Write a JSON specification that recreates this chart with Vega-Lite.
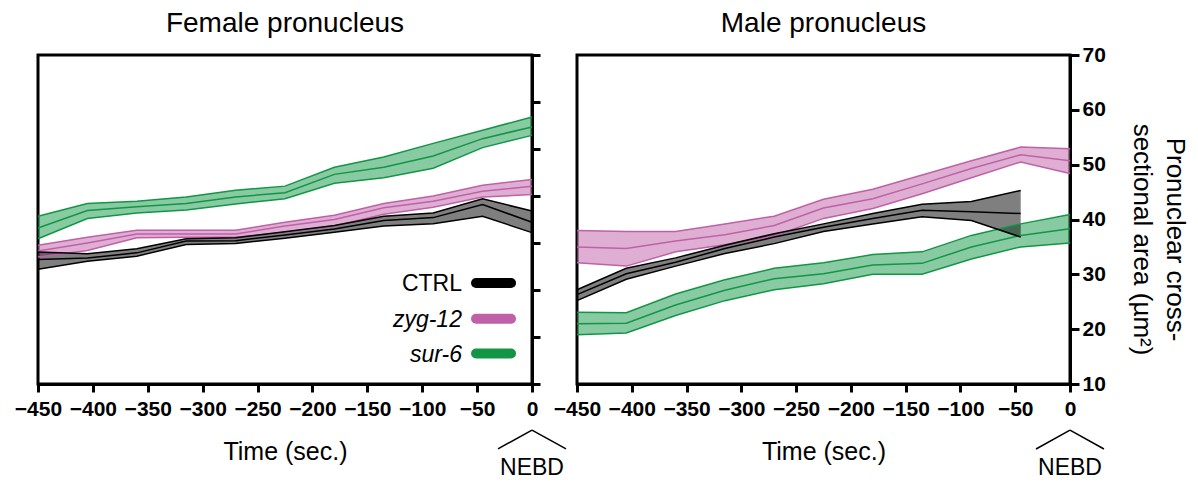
{
  "$schema": "https://vega.github.io/schema/vega-lite/v6.json",
  "background": "white",
  "padding": {"left": 12, "top": 8, "right": 5, "bottom": 5},
  "bounds": "flush",
  "spacing": 45,
  "config": {
    "font": "Liberation Sans",
    "view": {"stroke": "black", "strokeWidth": 3},
    "axis": {"grid": false, "domainColor": "black", "domainWidth": 3, "tickColor": "black", "tickWidth": 3, "tickSize": 8, "labelFont": "Liberation Sans", "labelFontSize": 21, "labelFontWeight": "bold", "labelColor": "black", "titleColor": "black", "titleFont": "Liberation Sans"},
    "axisX": {"labelFlush": false, "labelOverlap": false, "labelPadding": 6, "titleFontSize": 25, "titleFontWeight": "normal", "titleBaseline": "alphabetic", "titleY": 75},
    "text": {"font": "Liberation Sans", "color": "black"}
  },
  "datasets": {"d": [
    {"p":"Female","g":"sur-6","t":-450,"lo":30.9,"m":33.2,"hi":35.7},
    {"p":"Female","g":"sur-6","t":-405,"lo":35.2,"m":36.9,"hi":38.4},
    {"p":"Female","g":"sur-6","t":-360,"lo":36.4,"m":37.7,"hi":38.9},
    {"p":"Female","g":"sur-6","t":-315,"lo":37.0,"m":38.4,"hi":39.8},
    {"p":"Female","g":"sur-6","t":-270,"lo":38.3,"m":39.8,"hi":41.2},
    {"p":"Female","g":"sur-6","t":-225,"lo":39.4,"m":40.7,"hi":42.1},
    {"p":"Female","g":"sur-6","t":-180,"lo":42.7,"m":44.6,"hi":46.1},
    {"p":"Female","g":"sur-6","t":-135,"lo":43.9,"m":46.1,"hi":48.3},
    {"p":"Female","g":"sur-6","t":-90,"lo":45.9,"m":48.5,"hi":51.2},
    {"p":"Female","g":"sur-6","t":-45,"lo":50.3,"m":52.2,"hi":54.0},
    {"p":"Female","g":"sur-6","t":0,"lo":52.9,"m":54.7,"hi":56.8},
    {"p":"Female","g":"zyg-12","t":-450,"lo":27.0,"m":28.3,"hi":29.5},
    {"p":"Female","g":"zyg-12","t":-405,"lo":28.4,"m":30.0,"hi":31.2},
    {"p":"Female","g":"zyg-12","t":-360,"lo":31.1,"m":31.9,"hi":32.7},
    {"p":"Female","g":"zyg-12","t":-315,"lo":31.2,"m":31.9,"hi":32.7},
    {"p":"Female","g":"zyg-12","t":-270,"lo":31.2,"m":31.9,"hi":32.7},
    {"p":"Female","g":"zyg-12","t":-225,"lo":32.3,"m":33.6,"hi":34.4},
    {"p":"Female","g":"zyg-12","t":-180,"lo":33.6,"m":35.0,"hi":35.9},
    {"p":"Female","g":"zyg-12","t":-135,"lo":36.1,"m":37.5,"hi":38.4},
    {"p":"Female","g":"zyg-12","t":-90,"lo":37.6,"m":38.9,"hi":40.0},
    {"p":"Female","g":"zyg-12","t":-45,"lo":39.8,"m":41.0,"hi":42.3},
    {"p":"Female","g":"zyg-12","t":0,"lo":40.3,"m":42.1,"hi":43.5},
    {"p":"Female","g":"CTRL","t":-450,"lo":24.4,"m":26.5,"hi":28.1},
    {"p":"Female","g":"CTRL","t":-405,"lo":26.1,"m":26.8,"hi":27.7},
    {"p":"Female","g":"CTRL","t":-360,"lo":27.2,"m":27.9,"hi":28.8},
    {"p":"Female","g":"CTRL","t":-315,"lo":29.7,"m":30.4,"hi":30.9},
    {"p":"Female","g":"CTRL","t":-270,"lo":29.9,"m":30.5,"hi":31.1},
    {"p":"Female","g":"CTRL","t":-225,"lo":31.0,"m":31.7,"hi":32.4},
    {"p":"Female","g":"CTRL","t":-180,"lo":32.3,"m":33.0,"hi":33.7},
    {"p":"Female","g":"CTRL","t":-135,"lo":33.6,"m":34.8,"hi":35.7},
    {"p":"Female","g":"CTRL","t":-90,"lo":34.1,"m":35.4,"hi":36.4},
    {"p":"Female","g":"CTRL","t":-45,"lo":35.7,"m":38.2,"hi":39.4},
    {"p":"Female","g":"CTRL","t":0,"lo":32.2,"m":34.4,"hi":36.8},
    {"p":"Male","g":"sur-6","t":-450,"lo":19.0,"m":21.0,"hi":23.1},
    {"p":"Male","g":"sur-6","t":-405,"lo":19.3,"m":21.1,"hi":23.0},
    {"p":"Male","g":"sur-6","t":-360,"lo":22.5,"m":24.4,"hi":26.4},
    {"p":"Male","g":"sur-6","t":-315,"lo":25.2,"m":27.1,"hi":29.0},
    {"p":"Male","g":"sur-6","t":-270,"lo":27.2,"m":29.2,"hi":31.1},
    {"p":"Male","g":"sur-6","t":-225,"lo":28.3,"m":30.1,"hi":32.1},
    {"p":"Male","g":"sur-6","t":-180,"lo":30.0,"m":31.7,"hi":33.6},
    {"p":"Male","g":"sur-6","t":-135,"lo":30.0,"m":32.0,"hi":34.1},
    {"p":"Male","g":"sur-6","t":-90,"lo":32.8,"m":35.0,"hi":37.1},
    {"p":"Male","g":"sur-6","t":-45,"lo":35.0,"m":37.1,"hi":39.2},
    {"p":"Male","g":"sur-6","t":0,"lo":35.7,"m":38.3,"hi":40.9},
    {"p":"Male","g":"zyg-12","t":-450,"lo":32.1,"m":35.0,"hi":38.0},
    {"p":"Male","g":"zyg-12","t":-405,"lo":31.5,"m":34.7,"hi":37.8},
    {"p":"Male","g":"zyg-12","t":-360,"lo":34.1,"m":36.1,"hi":37.8},
    {"p":"Male","g":"zyg-12","t":-315,"lo":35.4,"m":37.2,"hi":39.2},
    {"p":"Male","g":"zyg-12","t":-270,"lo":37.0,"m":38.9,"hi":40.6},
    {"p":"Male","g":"zyg-12","t":-225,"lo":40.2,"m":42.1,"hi":43.7},
    {"p":"Male","g":"zyg-12","t":-180,"lo":42.0,"m":43.8,"hi":45.5},
    {"p":"Male","g":"zyg-12","t":-135,"lo":44.7,"m":46.5,"hi":48.1},
    {"p":"Male","g":"zyg-12","t":-90,"lo":47.6,"m":49.3,"hi":50.7},
    {"p":"Male","g":"zyg-12","t":-45,"lo":50.5,"m":51.8,"hi":53.2},
    {"p":"Male","g":"zyg-12","t":0,"lo":48.4,"m":50.7,"hi":52.9},
    {"p":"Male","g":"CTRL","t":-450,"lo":25.2,"m":26.3,"hi":27.2},
    {"p":"Male","g":"CTRL","t":-405,"lo":29.1,"m":30.1,"hi":31.1},
    {"p":"Male","g":"CTRL","t":-360,"lo":31.5,"m":32.2,"hi":33.0},
    {"p":"Male","g":"CTRL","t":-315,"lo":33.8,"m":34.7,"hi":35.3},
    {"p":"Male","g":"CTRL","t":-270,"lo":35.6,"m":36.8,"hi":37.4},
    {"p":"Male","g":"CTRL","t":-225,"lo":37.8,"m":38.6,"hi":39.2},
    {"p":"Male","g":"CTRL","t":-180,"lo":39.2,"m":40.2,"hi":41.1},
    {"p":"Male","g":"CTRL","t":-135,"lo":40.5,"m":41.7,"hi":42.8},
    {"p":"Male","g":"CTRL","t":-90,"lo":39.8,"m":41.4,"hi":43.3},
    {"p":"Male","g":"CTRL","t":-45,"lo":36.8,"m":41.1,"hi":45.3}
  ]},
  "resolve": {"scale": {"x": "independent", "y": "independent", "fill": "independent", "stroke": "independent"}},
  "hconcat": [
    {
      "width": 494,
      "height": 329,
      "data": {"name": "d"},
      "transform": [{"filter": "datum.p == 'Female'"}],
      "layer": [
        {
          "mark": {"type": "area", "opacity": 1, "fillOpacity": 0.5},
          "encoding": {
            "x": {"field": "t", "type": "quantitative", "scale": {"domain": [-450, 0], "nice": false, "zero": false}, "axis": {"values": [-450,-400,-350,-300,-250,-200,-150,-100,-50,0], "title": "Time (sec.)"}},
            "y": {"field": "lo", "type": "quantitative", "stack": null, "scale": {"domain": [0, 70], "nice": false, "zero": false}, "axis": {"orient": "right", "values": [0,10,20,30,40,50,60,70], "labels": false, "title": null}},
            "y2": {"field": "hi"},
            "fill": {"field": "g", "type": "nominal", "scale": {"domain": ["CTRL", "zyg-12", "sur-6"], "range": ["#000000", "#c060a8", "#129645"]}, "legend": null}
          }
        },
        {
          "transform": [{"fold": ["lo", "m", "hi"], "as": ["k", "v"]}],
          "mark": {"type": "line", "strokeWidth": 1.5},
          "encoding": {
            "x": {"field": "t", "type": "quantitative", "scale": {"domain": [-450, 0], "nice": false, "zero": false}, "axis": {"values": [-450,-400,-350,-300,-250,-200,-150,-100,-50,0], "title": "Time (sec.)"}},
            "y": {"field": "v", "type": "quantitative", "scale": {"domain": [0, 70], "nice": false, "zero": false}, "axis": {"orient": "right", "values": [0,10,20,30,40,50,60,70], "labels": false, "title": null}},
            "detail": {"field": "k"},
            "stroke": {"field": "g", "type": "nominal", "scale": {"domain": ["CTRL", "zyg-12", "sur-6"], "range": ["#000000", "#c060a8", "#129645"]}, "legend": null}
          }
        },
        {
          "data": {"values": [{}]},
          "mark": {"type": "text", "text": "Female pronucleus", "fontSize": 28, "baseline": "alphabetic", "align": "center"},
          "encoding": {
            "x": {"datum": -225, "type": "quantitative", "scale": {"domain": [-450, 0], "nice": false, "zero": false}, "axis": {"values": [-450,-400,-350,-300,-250,-200,-150,-100,-50,0], "title": "Time (sec.)"}},
            "y": {"datum": 74.9, "type": "quantitative", "scale": {"domain": [0, 70], "nice": false, "zero": false}, "axis": {"orient": "right", "values": [0,10,20,30,40,50,60,70], "labels": false, "title": null}}
          }
        },
        {
          "data": {"values": [{}]},
          "mark": {"type": "rule", "color": "black", "strokeWidth": 1.5},
          "encoding": {
            "x": {"datum": 0, "type": "quantitative", "scale": {"domain": [-450, 0], "nice": false, "zero": false}, "axis": {"values": [-450,-400,-350,-300,-250,-200,-150,-100,-50,0], "title": "Time (sec.)"}},
            "y": {"datum": -9.8, "type": "quantitative", "scale": {"domain": [0, 70], "nice": false, "zero": false}, "axis": {"orient": "right", "values": [0,10,20,30,40,50,60,70], "labels": false, "title": null}},
            "x2": {"datum": -31}, "y2": {"datum": -13.8}
          }
        },
        {
          "data": {"values": [{}]},
          "mark": {"type": "rule", "color": "black", "strokeWidth": 1.5},
          "encoding": {
            "x": {"datum": 0, "type": "quantitative", "scale": {"domain": [-450, 0], "nice": false, "zero": false}, "axis": {"values": [-450,-400,-350,-300,-250,-200,-150,-100,-50,0], "title": "Time (sec.)"}},
            "y": {"datum": -9.8, "type": "quantitative", "scale": {"domain": [0, 70], "nice": false, "zero": false}, "axis": {"orient": "right", "values": [0,10,20,30,40,50,60,70], "labels": false, "title": null}},
            "x2": {"datum": 31}, "y2": {"datum": -13.8}
          }
        },
        {
          "data": {"values": [{}]},
          "mark": {"type": "text", "text": "NEBD", "fontSize": 23, "baseline": "alphabetic", "align": "center"},
          "encoding": {
            "x": {"datum": 0, "type": "quantitative", "scale": {"domain": [-450, 0], "nice": false, "zero": false}, "axis": {"values": [-450,-400,-350,-300,-250,-200,-150,-100,-50,0], "title": "Time (sec.)"}},
            "y": {"datum": -19.4, "type": "quantitative", "scale": {"domain": [0, 70], "nice": false, "zero": false}, "axis": {"orient": "right", "values": [0,10,20,30,40,50,60,70], "labels": false, "title": null}}
          }
        },
        {
          "data": {"values": [{}]},
          "mark": {"type": "rule", "color": "#000000", "strokeWidth": 10, "strokeCap": "round"},
          "encoding": {
            "x": {"datum": -51, "type": "quantitative", "scale": {"domain": [-450, 0], "nice": false, "zero": false}, "axis": {"values": [-450,-400,-350,-300,-250,-200,-150,-100,-50,0], "title": "Time (sec.)"}},
            "y": {"datum": 21.5, "type": "quantitative", "scale": {"domain": [0, 70], "nice": false, "zero": false}, "axis": {"orient": "right", "values": [0,10,20,30,40,50,60,70], "labels": false, "title": null}},
            "x2": {"datum": -19.1}
          }
        },
        {
          "data": {"values": [{}]},
          "mark": {"type": "rule", "color": "#c060a8", "strokeWidth": 10, "strokeCap": "round"},
          "encoding": {
            "x": {"datum": -51, "type": "quantitative", "scale": {"domain": [-450, 0], "nice": false, "zero": false}, "axis": {"values": [-450,-400,-350,-300,-250,-200,-150,-100,-50,0], "title": "Time (sec.)"}},
            "y": {"datum": 13.9, "type": "quantitative", "scale": {"domain": [0, 70], "nice": false, "zero": false}, "axis": {"orient": "right", "values": [0,10,20,30,40,50,60,70], "labels": false, "title": null}},
            "x2": {"datum": -19.1}
          }
        },
        {
          "data": {"values": [{}]},
          "mark": {"type": "rule", "color": "#129645", "strokeWidth": 10, "strokeCap": "round"},
          "encoding": {
            "x": {"datum": -51, "type": "quantitative", "scale": {"domain": [-450, 0], "nice": false, "zero": false}, "axis": {"values": [-450,-400,-350,-300,-250,-200,-150,-100,-50,0], "title": "Time (sec.)"}},
            "y": {"datum": 6.5, "type": "quantitative", "scale": {"domain": [0, 70], "nice": false, "zero": false}, "axis": {"orient": "right", "values": [0,10,20,30,40,50,60,70], "labels": false, "title": null}},
            "x2": {"datum": -19.1}
          }
        },
        {
          "data": {"values": [{}]},
          "mark": {"type": "text", "text": "CTRL", "fontSize": 23, "baseline": "alphabetic", "align": "right"},
          "encoding": {
            "x": {"datum": -63.8, "type": "quantitative", "scale": {"domain": [-450, 0], "nice": false, "zero": false}, "axis": {"values": [-450,-400,-350,-300,-250,-200,-150,-100,-50,0], "title": "Time (sec.)"}},
            "y": {"datum": 19.7, "type": "quantitative", "scale": {"domain": [0, 70], "nice": false, "zero": false}, "axis": {"orient": "right", "values": [0,10,20,30,40,50,60,70], "labels": false, "title": null}}
          }
        },
        {
          "data": {"values": [{}]},
          "mark": {"type": "text", "text": "zyg-12", "fontSize": 23, "fontStyle": "italic", "baseline": "alphabetic", "align": "right"},
          "encoding": {
            "x": {"datum": -63.8, "type": "quantitative", "scale": {"domain": [-450, 0], "nice": false, "zero": false}, "axis": {"values": [-450,-400,-350,-300,-250,-200,-150,-100,-50,0], "title": "Time (sec.)"}},
            "y": {"datum": 12.1, "type": "quantitative", "scale": {"domain": [0, 70], "nice": false, "zero": false}, "axis": {"orient": "right", "values": [0,10,20,30,40,50,60,70], "labels": false, "title": null}}
          }
        },
        {
          "data": {"values": [{}]},
          "mark": {"type": "text", "text": "sur-6", "fontSize": 23, "fontStyle": "italic", "baseline": "alphabetic", "align": "right"},
          "encoding": {
            "x": {"datum": -63.8, "type": "quantitative", "scale": {"domain": [-450, 0], "nice": false, "zero": false}, "axis": {"values": [-450,-400,-350,-300,-250,-200,-150,-100,-50,0], "title": "Time (sec.)"}},
            "y": {"datum": 4.7, "type": "quantitative", "scale": {"domain": [0, 70], "nice": false, "zero": false}, "axis": {"orient": "right", "values": [0,10,20,30,40,50,60,70], "labels": false, "title": null}}
          }
        }
      ]
    },
    {
      "width": 493,
      "height": 329,
      "data": {"name": "d"},
      "transform": [{"filter": "datum.p == 'Male'"}],
      "layer": [
        {
          "mark": {"type": "area", "opacity": 1, "fillOpacity": 0.5},
          "encoding": {
            "x": {"field": "t", "type": "quantitative", "scale": {"domain": [-450, 0], "nice": false, "zero": false}, "axis": {"values": [-450,-400,-350,-300,-250,-200,-150,-100,-50,0], "title": "Time (sec.)"}},
            "y": {"field": "lo", "type": "quantitative", "stack": null, "scale": {"domain": [10, 70], "nice": false, "zero": false},
                  "axis": {"orient": "right", "values": [10,20,30,40,50,60,70], "tickSize": 9, "labelPadding": 3, "title": ["Pronuclear cross-", "sectional area (µm²)"], "titleFontSize": 26, "titleFontWeight": "normal", "titleAngle": 90, "titleBaseline": "alphabetic", "titleAlign": "center", "titleX": 96, "titleY": 184, "titleLineHeight": 33}},
            "y2": {"field": "hi"},
            "fill": {"field": "g", "type": "nominal", "scale": {"domain": ["CTRL", "zyg-12", "sur-6"], "range": ["#000000", "#c060a8", "#129645"]}, "legend": null}
          }
        },
        {
          "transform": [{"fold": ["lo", "m", "hi"], "as": ["k", "v"]}],
          "mark": {"type": "line", "strokeWidth": 1.5},
          "encoding": {
            "x": {"field": "t", "type": "quantitative", "scale": {"domain": [-450, 0], "nice": false, "zero": false}, "axis": {"values": [-450,-400,-350,-300,-250,-200,-150,-100,-50,0], "title": "Time (sec.)"}},
            "y": {"field": "v", "type": "quantitative", "scale": {"domain": [10, 70], "nice": false, "zero": false},
                  "axis": {"orient": "right", "values": [10,20,30,40,50,60,70], "tickSize": 9, "labelPadding": 3, "title": ["Pronuclear cross-", "sectional area (µm²)"], "titleFontSize": 26, "titleFontWeight": "normal", "titleAngle": 90, "titleBaseline": "alphabetic", "titleAlign": "center", "titleX": 96, "titleY": 184, "titleLineHeight": 33}},
            "detail": {"field": "k"},
            "stroke": {"field": "g", "type": "nominal", "scale": {"domain": ["CTRL", "zyg-12", "sur-6"], "range": ["#000000", "#c060a8", "#129645"]}, "legend": null}
          }
        },
        {
          "data": {"values": [{}]},
          "mark": {"type": "text", "text": "Male pronucleus", "fontSize": 28, "baseline": "alphabetic", "align": "center"},
          "encoding": {
            "x": {"datum": -225, "type": "quantitative", "scale": {"domain": [-450, 0], "nice": false, "zero": false}, "axis": {"values": [-450,-400,-350,-300,-250,-200,-150,-100,-50,0], "title": "Time (sec.)"}},
            "y": {"datum": 74.2, "type": "quantitative", "scale": {"domain": [10, 70], "nice": false, "zero": false},
                  "axis": {"orient": "right", "values": [10,20,30,40,50,60,70], "tickSize": 9, "labelPadding": 3, "title": ["Pronuclear cross-", "sectional area (µm²)"], "titleFontSize": 26, "titleFontWeight": "normal", "titleAngle": 90, "titleBaseline": "alphabetic", "titleAlign": "center", "titleX": 96, "titleY": 184, "titleLineHeight": 33}}
          }
        },
        {
          "data": {"values": [{}]},
          "mark": {"type": "rule", "color": "black", "strokeWidth": 1.5},
          "encoding": {
            "x": {"datum": 0, "type": "quantitative", "scale": {"domain": [-450, 0], "nice": false, "zero": false}, "axis": {"values": [-450,-400,-350,-300,-250,-200,-150,-100,-50,0], "title": "Time (sec.)"}},
            "y": {"datum": 1.6, "type": "quantitative", "scale": {"domain": [10, 70], "nice": false, "zero": false},
                  "axis": {"orient": "right", "values": [10,20,30,40,50,60,70], "tickSize": 9, "labelPadding": 3, "title": ["Pronuclear cross-", "sectional area (µm²)"], "titleFontSize": 26, "titleFontWeight": "normal", "titleAngle": 90, "titleBaseline": "alphabetic", "titleAlign": "center", "titleX": 96, "titleY": 184, "titleLineHeight": 33}},
            "x2": {"datum": -31}, "y2": {"datum": -1.85}
          }
        },
        {
          "data": {"values": [{}]},
          "mark": {"type": "rule", "color": "black", "strokeWidth": 1.5},
          "encoding": {
            "x": {"datum": 0, "type": "quantitative", "scale": {"domain": [-450, 0], "nice": false, "zero": false}, "axis": {"values": [-450,-400,-350,-300,-250,-200,-150,-100,-50,0], "title": "Time (sec.)"}},
            "y": {"datum": 1.6, "type": "quantitative", "scale": {"domain": [10, 70], "nice": false, "zero": false},
                  "axis": {"orient": "right", "values": [10,20,30,40,50,60,70], "tickSize": 9, "labelPadding": 3, "title": ["Pronuclear cross-", "sectional area (µm²)"], "titleFontSize": 26, "titleFontWeight": "normal", "titleAngle": 90, "titleBaseline": "alphabetic", "titleAlign": "center", "titleX": 96, "titleY": 184, "titleLineHeight": 33}},
            "x2": {"datum": 31}, "y2": {"datum": -1.85}
          }
        },
        {
          "data": {"values": [{}]},
          "mark": {"type": "text", "text": "NEBD", "fontSize": 23, "baseline": "alphabetic", "align": "center"},
          "encoding": {
            "x": {"datum": 0, "type": "quantitative", "scale": {"domain": [-450, 0], "nice": false, "zero": false}, "axis": {"values": [-450,-400,-350,-300,-250,-200,-150,-100,-50,0], "title": "Time (sec.)"}},
            "y": {"datum": -6.6, "type": "quantitative", "scale": {"domain": [10, 70], "nice": false, "zero": false},
                  "axis": {"orient": "right", "values": [10,20,30,40,50,60,70], "tickSize": 9, "labelPadding": 3, "title": ["Pronuclear cross-", "sectional area (µm²)"], "titleFontSize": 26, "titleFontWeight": "normal", "titleAngle": 90, "titleBaseline": "alphabetic", "titleAlign": "center", "titleX": 96, "titleY": 184, "titleLineHeight": 33}}
          }
        }
      ]
    }
  ]
}
